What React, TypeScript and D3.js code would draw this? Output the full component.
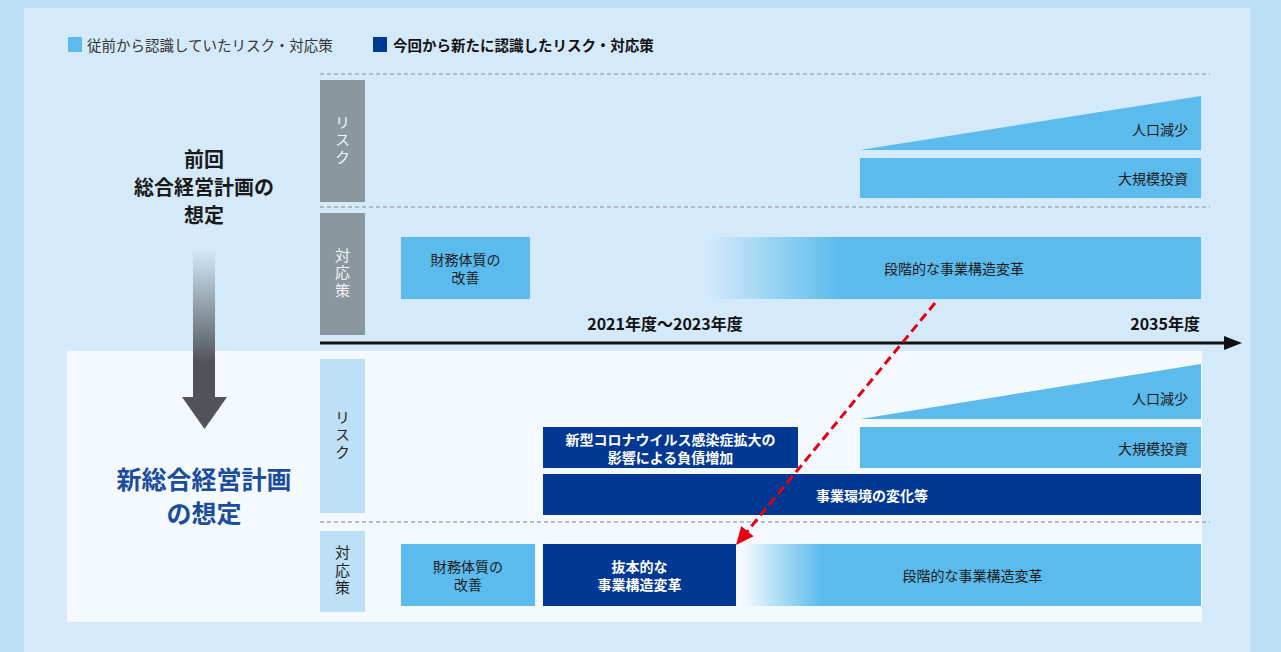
import React from "react";
import * as d3 from "d3";

// ---------- data ----------
const legendItems = ["従前から認識していたリスク・対応策", "今回から新たに認識したリスク・対応策"];
const rowLabels = ["リスク", "対応策"];
const axisLabels = [
  { text: "2021年度〜2023年度", pos: 345, anchor: "middle" },
  { text: "2035年度", pos: 880, anchor: "end" },
];
const prevTitle = ["前回", "総合経営計画の", "想定"];
const newTitle = ["新総合経営計画", "の想定"];

// timeline units: 0 = left of row labels, 880 = 2035年度 end
type Item = { label: string; start: number; end: number; lane: number; kind: "old" | "new"; shape?: "wedge" | "fade"; align?: "end" };

const prevRiskItems: Item[] = [
  { label: "人口減少", start: 540, end: 881, lane: 0, kind: "old", shape: "wedge", align: "end" },
  { label: "大規模投資", start: 540, end: 881, lane: 1, kind: "old", align: "end" },
];
const prevResponseItems: Item[] = [
  { label: "財務体質の\n改善", start: 81, end: 210, lane: 0, kind: "old" },
  { label: "段階的な事業構造変革", start: 387, end: 881, lane: 0, kind: "old", shape: "fade" },
];
const newRiskItems: Item[] = [
  { label: "人口減少", start: 540, end: 881, lane: 0, kind: "old", shape: "wedge", align: "end" },
  { label: "大規模投資", start: 540, end: 881, lane: 1, kind: "old", align: "end" },
  { label: "新型コロナウイルス感染症拡大の\n影響による負債増加", start: 223, end: 478, lane: 1, kind: "new" },
  { label: "事業環境の変化等", start: 223, end: 881, lane: 2, kind: "new" },
];
const newResponseItems: Item[] = [
  { label: "財務体質の\n改善", start: 81, end: 215, lane: 0, kind: "old" },
  { label: "抜本的な\n事業構造変革", start: 223, end: 416, lane: 0, kind: "new" },
  { label: "段階的な事業構造変革", start: 424, end: 881, lane: 0, kind: "old", shape: "fade" },
];
const shiftArrow = { from: 615, to: 416 };

// ---------- styles ----------
const FONT = "'Noto Sans CJK JP', 'Noto Sans', sans-serif";
const C = {
  outer: "#bddff6",
  inner: "#d4eafa",
  panel: "#f3f9fe",
  old: "#5bbbec",
  neu: "#013893",
  gray: "#8b979f",
  lightBox: "#bde0f6",
  dash: "#a3acb2",
  red: "#e60012",
  arrow: "#505459",
  navyText: "#1c4c9c",
};

const x = d3.scaleLinear().domain([0, 880]).range([320, 1200]);

function Lines({ text, cx, cy, size, fill, weight, anchor = "middle", lh = 18 }: any) {
  const lines = text.split("\n");
  const off = ((lines.length - 1) * lh) / 2;
  return (
    <text x={cx} y={cy} fill={fill} fontSize={size} fontWeight={weight} textAnchor={anchor} fontFamily={FONT}>
      {lines.map((l: string, i: number) => (
        <tspan key={i} x={cx} y={cy - off + i * lh} dominantBaseline="central">
          {l}
        </tspan>
      ))}
    </text>
  );
}

function Bars({ items, lanes, fadeId }: { items: Item[]; lanes: [number, number][]; fadeId: string }) {
  return (
    <g>
      {items.map((it, i) => {
        const [y0, y1] = lanes[it.lane];
        const x0 = x(it.start), x1 = x(it.end);
        const fill = it.kind === "new" ? C.neu : C.old;
        const tfill = it.kind === "new" ? "#ffffff" : "#1a1a1a";
        let shape;
        if (it.shape === "wedge") {
          const p = d3.path();
          p.moveTo(x0, y1);
          p.lineTo(x1, y0);
          p.lineTo(x1, y1);
          p.closePath();
          shape = <path d={p.toString()} fill={fill} />;
        } else {
          shape = <rect x={x0} y={y0} width={x1 - x0} height={y1 - y0} fill={it.shape === "fade" ? `url(#${fadeId})` : fill} />;
        }
        const ty = it.shape === "wedge" ? y0 + (y1 - y0) * 0.62 : (y0 + y1) / 2;
        const tx = it.align === "end" ? x1 - 13 : (x0 + x1) / 2;
        return (
          <g key={i}>
            {shape}
            <Lines text={it.label} cx={tx} cy={ty} size={14} fill={tfill} weight={it.kind === "new" ? 700 : 400} anchor={it.align === "end" ? "end" : "middle"} />
          </g>
        );
      })}
    </g>
  );
}

function RowBox({ label, y0, y1, fill, color, weight }: any) {
  const cy = (y0 + y1) / 2;
  return (
    <g>
      <rect x={320} y={y0} width={45} height={y1 - y0} fill={fill} />
      <text
        x={342.5}
        y={cy}
        fontSize={15}
        fill={color}
        fontFamily={FONT}
        fontWeight={weight}
        textAnchor="middle"
        style={{ writingMode: "vertical-rl", textOrientation: "upright", letterSpacing: "2.5px" } as any}
      >
        {label}
      </text>
    </g>
  );
}

export default function App() {
  const W = 1281, H = 652;
  const topRiskLanes: [number, number][] = [[96, 150], [158, 198]];
  const topRespLanes: [number, number][] = [[237, 299]];
  const botRiskLanes: [number, number][] = [[364, 419], [427, 468], [474, 515]];
  const botRespLanes: [number, number][] = [[544, 606]];

  // red arrow geometry
  const ax0 = x(shiftArrow.from), ay0 = topRespLanes[0][1] + 4;
  const ax1 = x(shiftArrow.to), ay1 = botRespLanes[0][0] + 1;
  const dx = ax1 - ax0, dy = ay1 - ay0, len = Math.hypot(dx, dy);
  const ux = dx / len, uy = dy / len;
  const headL = 18, headW = 8;
  const bx = ax1 - ux * headL, by = ay1 - uy * headL;
  const head = `M${ax1},${ay1}L${bx - uy * headW},${by + ux * headW}L${bx + uy * headW},${by - ux * headW}Z`;

  return (
    <svg width={W} height={H} style={{ position: "absolute", left: 0, top: 0 }} fontFamily={FONT}>
      <defs>
        <linearGradient id="fadeTop" x1="0" x2="1" y1="0" y2="0">
          <stop offset="0" stopColor={C.old} stopOpacity={0} />
          <stop offset="0.27" stopColor={C.old} stopOpacity={1} />
          <stop offset="1" stopColor={C.old} stopOpacity={1} />
        </linearGradient>
        <linearGradient id="fadeBot" x1="0" x2="1" y1="0" y2="0">
          <stop offset="0" stopColor={C.old} stopOpacity={0} />
          <stop offset="0.17" stopColor={C.old} stopOpacity={1} />
          <stop offset="1" stopColor={C.old} stopOpacity={1} />
        </linearGradient>
        <linearGradient id="downGrad" x1="0" x2="0" y1="0" y2="1">
          <stop offset="0" stopColor={C.arrow} stopOpacity={0} />
          <stop offset="0.75" stopColor={C.arrow} stopOpacity={1} />
          <stop offset="1" stopColor={C.arrow} stopOpacity={1} />
        </linearGradient>
      </defs>

      <rect x={0} y={0} width={W} height={H} fill={C.outer} />
      <rect x={24} y={8} width={1226} height={H - 8} fill={C.inner} />
      <rect x={67} y={351} width={1135} height={271} fill={C.panel} />

      {/* legend */}
      <rect x={68} y={37} width={14} height={15} fill={C.old} />
      <text x={87} y={44.5} fontSize={14.5} fill="#333" dominantBaseline="central">{legendItems[0]}</text>
      <rect x={373} y={37} width={14} height={15} fill={C.neu} />
      <text x={393} y={44.5} fontSize={14.5} fill="#111" fontWeight={700} dominantBaseline="central">{legendItems[1]}</text>

      {/* dashed separators */}
      {[74, 207, 522].map((yy) => (
        <line key={yy} x1={320} x2={1210} y1={yy} y2={yy} stroke={C.dash} strokeWidth={1.3} strokeDasharray="4 3" />
      ))}

      {/* row label boxes */}
      <RowBox label={rowLabels[0]} y0={80} y1={202} fill={C.gray} color="#f2f5f7" weight={400} />
      <RowBox label={rowLabels[1]} y0={213} y1={335} fill={C.gray} color="#f2f5f7" weight={400} />
      <RowBox label={rowLabels[0]} y0={359} y1={513} fill={C.lightBox} color="#222" weight={400} />
      <RowBox label={rowLabels[1]} y0={531} y1={612} fill={C.lightBox} color="#222" weight={400} />

      {/* bars */}
      <Bars items={prevRiskItems} lanes={topRiskLanes} fadeId="fadeTop" />
      <Bars items={prevResponseItems} lanes={topRespLanes} fadeId="fadeTop" />
      <Bars items={newRiskItems} lanes={botRiskLanes} fadeId="fadeBot" />
      <Bars items={newResponseItems} lanes={botRespLanes} fadeId="fadeBot" />

      {/* timeline axis */}
      <line x1={320} x2={1228} y1={343} y2={343} stroke="#111" strokeWidth={3} />
      <path d="M1224,336L1242,343L1224,350Z" fill="#111" />
      {axisLabels.map((a, i) => (
        <text key={i} x={x(a.pos)} y={323} fontSize={16} fontWeight={700} fill="#111" textAnchor={a.anchor as any} dominantBaseline="central">
          {a.text}
        </text>
      ))}

      {/* left titles */}
      {prevTitle.map((t, i) => (
        <text key={i} x={204} y={158 + i * 28} fontSize={20} fontWeight={700} fill="#1a1a1a" textAnchor="middle" dominantBaseline="central">
          {t}
        </text>
      ))}
      <rect x={193} y={250} width={22} height={150} fill="url(#downGrad)" />
      <path d="M182,397L227,397L204.5,429Z" fill={C.arrow} />
      {newTitle.map((t, i) => (
        <text key={i} x={204} y={478 + i * 34} fontSize={25} fontWeight={700} fill={C.navyText} textAnchor="middle" dominantBaseline="central">
          {t}
        </text>
      ))}

      {/* red dashed shift arrow */}
      <line x1={ax0} y1={ay0} x2={bx + ux * 2} y2={by + uy * 2} stroke={C.red} strokeWidth={3} strokeDasharray="9 5" />
      <path d={head} fill={C.red} />
    </svg>
  );
}
